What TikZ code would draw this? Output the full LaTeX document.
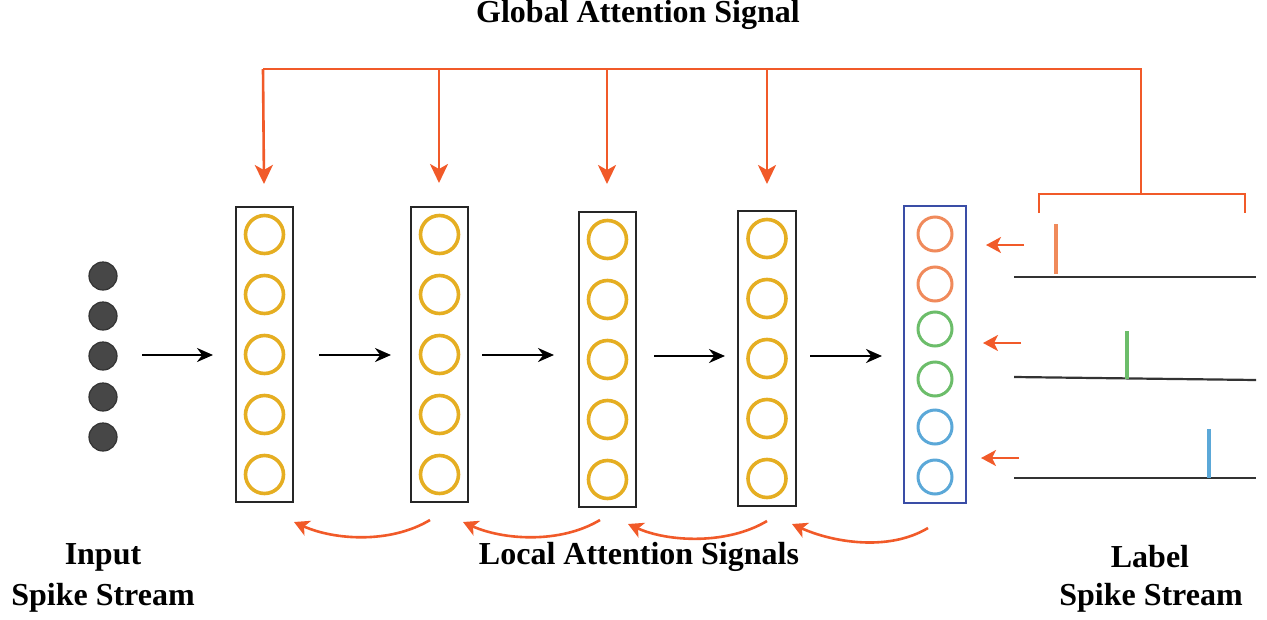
\documentclass[tikz,border=0pt]{standalone}
\usepackage{fontspec}
\setmainfont{Liberation Serif}
\usetikzlibrary{arrows.meta}
\definecolor{attn}{HTML}{F15A29}
\definecolor{gold}{HTML}{E5AE22}
\definecolor{outorange}{HTML}{F08A5B}
\definecolor{outgreen}{HTML}{6CBD6A}
\definecolor{outblue}{HTML}{5BA8D8}
\definecolor{boxblue}{HTML}{3A4DA6}
\definecolor{dotgray}{HTML}{474747}
\definecolor{linegray}{HTML}{333333}
\begin{document}
\begin{tikzpicture}[x=1pt,y=-1pt,
  layerbox/.style={draw=black!85,line width=2.2pt,minimum width=57pt,minimum height=295pt,inner sep=0pt},
  outbox/.style={draw=boxblue,line width=2.6pt,minimum width=62pt,minimum height=297pt,inner sep=0pt},
  neuron/.style={circle,draw=gold,line width=3.6pt,minimum size=38pt,inner sep=0pt},
  oneuron/.style={circle,line width=3pt,minimum size=34pt,inner sep=0pt},
  indot/.style={circle,fill=dotgray,draw=black!80,line width=1.2pt,minimum size=28pt,inner sep=0pt},
  flow/.style={line width=2.2pt,-{Stealth[length=16pt,width=14pt]}},
  attnarrow/.style={draw=attn,line width=2.6pt,-{Stealth[length=19pt,width=18pt,inset=5pt]}},
  attnline/.style={draw=attn,line width=2.6pt},
  spikeline/.style={draw=linegray,line width=2.2pt},
  lbl/.style={font=\fontsize{32}{34}\selectfont\bfseries,inner sep=0pt,align=center}
]
\useasboundingbox (0,0) rectangle (1267,619);

% input dots
\foreach \i/\y in {1/276,2/316,3/356,4/397,5/437}
  \node[indot] (in\i) at (103,\y) {};

% hidden layers
\node[layerbox] (L1) at (264.5,354.5) {};
\node[layerbox] (L2) at (439.5,354.5) {};
\node[layerbox] (L3) at (607.5,359.5) {};
\node[layerbox,minimum width=58pt] (L4) at (767,358.5) {};
\foreach \b in {1,2,3,4}
  \foreach \k/\dy in {1/-120,2/-60,3/0,4/60,5/120}
    \node[neuron] (n\b\k) at ([yshift=-\dy pt]L\b.center) {};

% output layer
\node[outbox] (L5) at (935,354.5) {};
\node[oneuron,draw=outorange] (o1) at (935,234) {};
\node[oneuron,draw=outorange] (o2) at (935,284) {};
\node[oneuron,draw=outgreen] (o3) at (935,329) {};
\node[oneuron,draw=outgreen] (o4) at (935,379) {};
\node[oneuron,draw=outblue] (o5) at (935,427) {};
\node[oneuron,draw=outblue] (o6) at (935,477) {};

% feed-forward arrows
\coordinate (fa0) at (142,355); \coordinate (fb0) at (213,355);
\coordinate (fa1) at (319,355); \coordinate (fb1) at (391,355);
\coordinate (fa2) at (482,355); \coordinate (fb2) at (554,355);
\coordinate (fa3) at (654,356); \coordinate (fb3) at (725,356);
\coordinate (fa4) at (810,356); \coordinate (fb4) at (882,356);
\foreach \i in {0,...,4} \draw[flow] (fa\i) -- (fb\i);

% global attention
\coordinate (gt1) at (263,69); \coordinate (gt2) at (439,69);
\coordinate (gt3) at (607,69); \coordinate (gt4) at (767,69);
\coordinate (gtr) at (1141,69);
\coordinate (gb1) at (264,184); \coordinate (gb2) at (439,183);
\coordinate (gb3) at (607,184); \coordinate (gb4) at (767,184);
\draw[attnline] (gt1) -- (gtr) -- (1141,194) coordinate (bm);
\draw[attnline] (1039,213) coordinate (bl) -- (1039,194) -- (1245,194) -- (1245,213) coordinate (br);
\foreach \i in {1,...,4} \draw[attnarrow] (gt\i) -- (gb\i);

% label spike streams
\draw[spikeline] (1014,277) coordinate (s1a) -- (1256,277) coordinate (s1b);
\draw[spikeline] (1014,377) coordinate (s2a) -- (1256,380) coordinate (s2b);
\draw[spikeline] (1014,478) coordinate (s3a) -- (1256,478) coordinate (s3b);
\draw[draw=outorange,line width=3.2pt] (1056,224) -- (1056,274);
\draw[draw=outgreen,line width=3.2pt] (1127,331) -- (1127,379);
\draw[draw=outblue,line width=3.2pt] (1209,429) -- (1209,478);
\coordinate (la1) at (1024,245); \coordinate (lb1) at (986,245);
\coordinate (la2) at (1021,343); \coordinate (lb2) at (983,343);
\coordinate (la3) at (1019,458); \coordinate (lb3) at (981,458);
\foreach \i in {1,2,3} \draw[attnarrow,-{Stealth[length=15pt,width=16pt,inset=4pt]}] (la\i) -- (lb\i);

% local attention arcs
\coordinate (ls1) at (430,520); \coordinate (le1) at (294,522);
\coordinate (ls2) at (600,520); \coordinate (le2) at (463,522);
\coordinate (ls3) at (767,521); \coordinate (le3) at (628,524);
\coordinate (ls4) at (928,528); \coordinate (le4) at (792,524);
\foreach \i in {1,...,4}
  \draw[attnarrow,-{Stealth[length=15pt,width=16pt,inset=4pt]}] (ls\i) .. controls ([shift={(-40,24)}]ls\i) and ([shift={(40,18)}]le\i) .. (le\i);

% texts
\node[lbl] (tglobal) at (638,15) {Global Attention Signal};
\node[lbl] (tlocal) at (639,557) {Local Attention Signals};
\node[lbl] (tin1) at (103,557) {Input};
\node[lbl] (tin2) at (103,598) {Spike Stream};
\node[lbl] (tlab1) at (1150,557) {Label};
\node[lbl] (tlab2) at (1151,598) {Spike Stream};
\end{tikzpicture}
\end{document}
